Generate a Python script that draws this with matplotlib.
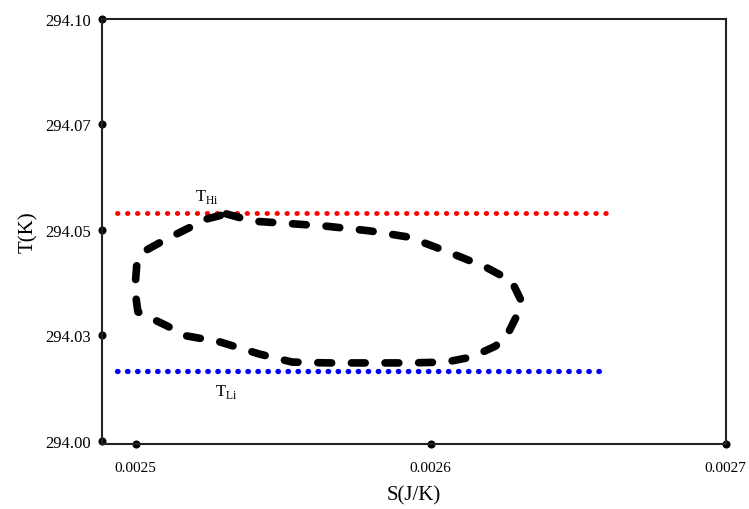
import numpy as np
import matplotlib
matplotlib.use("Agg")
from matplotlib import pyplot as plt

# loop, S in J/K and T in K
S_loop = [0.0025307, 0.0025395, 0.0025544, 0.0025645, 0.0025791, 0.0025926,
          0.0026051, 0.0026186, 0.0026274, 0.0026304, 0.0026291, 0.0026264,
          0.0026220, 0.0026139, 0.0026051, 0.0025926, 0.0025791, 0.0025655,
          0.0025530, 0.0025419, 0.0025284, 0.0025172, 0.0025105, 0.0025007,
          0.0024997, 0.0025003, 0.0025030, 0.0025105, 0.0025172, 0.0025240,
          0.0025307]
T_loop = [294.0538, 294.0521, 294.0514, 294.0509, 294.0498, 294.0483,
          294.0450, 294.0412, 294.0379, 294.0336, 294.0296, 294.0258,
          294.0225, 294.0199, 294.0187, 294.0185, 294.0185, 294.0185,
          294.0187, 294.0206, 294.0235, 294.0249, 294.0273, 294.0306,
          294.0360, 294.0415, 294.0450, 294.0479, 294.0502, 294.0526,
          294.0538]

# reservoir temperatures, drawn over this S range
S_line = [0.0024936, 0.0026595]
T_hi = 294.0540
T_lo = 294.0166

x_ticks = [0.0025, 0.0026, 0.0027]
x_ticklabels = ["0.0025", "0.0026", "0.0027"]
y_ticks = [294.000, 294.025, 294.050, 294.075, 294.100]
y_ticklabels = ["294.00", "294.03", "294.05", "294.07", "294.10"]

plt.rcParams['font.family'] = ['Liberation Serif', 'DejaVu Serif']
plt.rcParams['mathtext.fontset'] = 'custom'
plt.rcParams['mathtext.rm'] = 'Liberation Serif'

fig = plt.figure(figsize=(7.49, 5.10), dpi=100)
ax = fig.add_axes([0.136, 0.1275, 0.833, 0.8335])

ax.plot(S_line, [T_hi, T_hi], color='#ff0000', lw=3.5, dashes=(0.1, 1.95),
        dash_capstyle='round')
ax.plot(S_line, [T_lo, T_lo], color='#0000ff', lw=3.8, dashes=(0.1, 1.8),
        dash_capstyle='round')
ax.plot(S_loop, T_loop, color='black', lw=5.5, dashes=(1.8, 2.6),
        dash_capstyle='round', solid_joinstyle='round')

ax.text(0.002520, 294.0581, r'T$_{\rm Hi}$', fontsize=12, ha='left', va='center')
ax.text(0.002527, 294.0118, r'T$_{\rm Li}$', fontsize=12, ha='left', va='center')

ax.set_xlim(0.0024885, 0.0027)
ax.set_ylim(293.9993, 294.1)
ax.set_xticks(x_ticks)
ax.set_xticklabels(x_ticklabels, fontsize=11)
ax.set_yticks(y_ticks)
ax.set_yticklabels(y_ticklabels, fontsize=12)
ax.tick_params(axis='x', pad=12, length=0)
ax.tick_params(axis='y', pad=8, length=0)

# ticks show as round dots on the spines
for t in ax.xaxis.get_ticklines() + ax.yaxis.get_ticklines():
    t.set_marker('o')
    t.set_markersize(5)
    t.set_color('black')

for s in ax.spines.values():
    s.set_linewidth(1.5)
    s.set_color('#222222')

ax.set_xlabel('S(J/K)', fontsize=15, labelpad=8)
ax.set_ylabel('T(K)', fontsize=15, labelpad=5)

plt.savefig('out.png', dpi=100)
